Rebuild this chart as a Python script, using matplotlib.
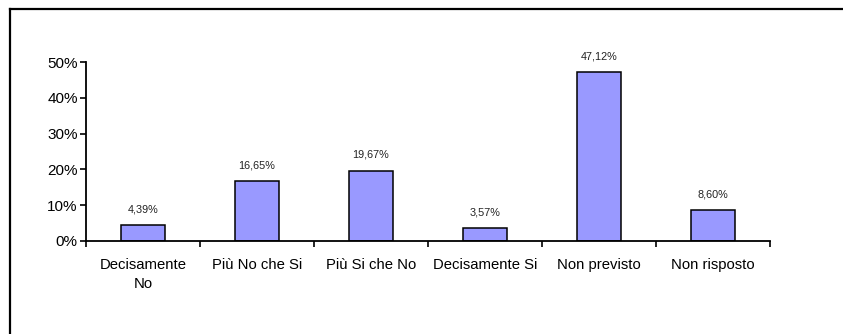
import matplotlib
matplotlib.use('Agg')
import matplotlib.pyplot as plt
from matplotlib.lines import Line2D
import numpy as np

categories = ['Decisamente\nNo', 'Più No che Si', 'Più Si che No',
              'Decisamente Si', 'Non previsto', 'Non risposto']
values = [4.39, 16.65, 19.67, 3.57, 47.12, 8.60]
yticks = [0, 10, 20, 30, 40, 50]

plt.rcParams['font.family'] = ['Liberation Sans', 'DejaVu Sans']

W, H = 843, 334
fig = plt.figure(figsize=(W / 100, H / 100), dpi=100)
ax = fig.add_axes([86 / W, 1 - 241 / H, (770 - 86) / W, (241 - 62) / H])

x = np.arange(len(categories))
ax.bar(x, values, width=0.385, color='#9999FF', edgecolor='black', linewidth=1.1, zorder=2)

for xi, v in zip(x, values):
    label = f'{v:.2f}%'.replace('.', ',')
    ax.annotate(label, (xi, v), xytext=(0, 8), textcoords='offset points',
                ha='center', va='bottom', fontsize=7.8, color='#222222')

ax.set_xlim(-0.5, len(categories) - 0.5)
ax.set_ylim(0, 50)
ax.set_yticks(yticks)
ax.set_yticklabels([f'{t}%' for t in yticks], fontsize=11)

# category labels sit between the boundary ticks
ax.set_xticks(x)
ax.set_xticklabels(categories, fontsize=10.7, linespacing=1.45, va='top')
ax.tick_params(axis='x', length=0, pad=12)
ax.set_xticks(np.arange(len(categories) + 1) - 0.5, minor=True)
ax.tick_params(axis='x', which='minor', length=4, width=1.2, direction='out')
ax.tick_params(axis='y', length=4, width=1.2, direction='out', pad=2)

for side in ['top', 'right']:
    ax.spines[side].set_visible(False)
for side in ['left', 'bottom']:
    ax.spines[side].set_linewidth(1.3)

# outer chart frame (only top and left edges fall inside the image)
fig.add_artist(Line2D([10 / W, 1], [1 - 9 / H, 1 - 9 / H], color='black', lw=1.6,
                      transform=fig.transFigure))
fig.add_artist(Line2D([10 / W, 10 / W], [0, 1 - 9 / H], color='black', lw=1.6,
                      transform=fig.transFigure))

fig.savefig('out.png', dpi=100)
